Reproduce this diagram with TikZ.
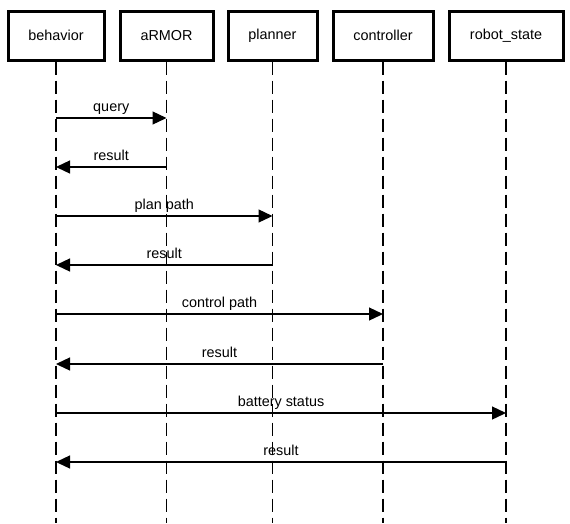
\documentclass[tikz,border=0pt]{standalone}
\usepackage{fontspec}
\setmainfont{Liberation Sans}
\usetikzlibrary{arrows.meta}

\begin{document}
\begin{tikzpicture}[
  x=1pt, y=-1pt,
  font=\fontsize{14.4}{17}\selectfont,
  box/.style={draw, line width=3pt, fill=white, rectangle,
              minimum height=49pt, align=center, inner sep=2pt},
  ll/.style={line width=1.7pt, dash pattern=on 13pt off 6pt},
  arr/.style={-{Triangle[length=14pt,width=13pt]}, line width=1.3pt},
  lbl/.style={anchor=base, inner sep=0pt},
]
  \useasboundingbox (0,0) rectangle (570,523);

  % --- Participant boxes ---
  \node[box, minimum width=96pt]  (behavior)   at (56,35.5)    {behavior};
  \node[box, minimum width=93pt]  (armor)      at (166.5,35.5) {aRMOR};
  \node[box, minimum width=89pt]  (planner)    at (272.5,35.5) {planner};
  \node[box, minimum width=100pt] (controller) at (383,35.5)   {controller};
  \node[box, minimum width=114pt] (robotstate) at (506,35.5)   {robot\_state};

  % --- Lifelines ---
  \foreach \n in {behavior,armor,planner,controller,robotstate}
    \draw[ll] (\n.south) -- (\n.south |- 0,523);

  % ======== aRMOR ========
  \draw[arr] (behavior |- 0,118) -- (armor |- 0,118)
    node[lbl, midway, yshift=7pt] {query};
  \draw[arr] (armor |- 0,167) -- (behavior |- 0,167)
    node[lbl, midway, yshift=7pt] {result};

  % ======== planner ========
  \draw[arr] (behavior |- 0,216) -- (planner |- 0,216)
    node[lbl, midway, yshift=7pt] {plan path};
  \draw[arr] (planner |- 0,265) -- (behavior |- 0,265)
    node[lbl, midway, yshift=7pt] {result};

  % ======== controller ========
  \draw[arr] (behavior |- 0,314) -- (controller |- 0,314)
    node[lbl, midway, yshift=7pt] {control path};
  \draw[arr] (controller |- 0,364) -- (behavior |- 0,364)
    node[lbl, midway, yshift=7pt] {result};

  % ======== robot_state ========
  \draw[arr] (behavior |- 0,413) -- (robotstate |- 0,413)
    node[lbl, midway, yshift=7pt] {battery status};
  \draw[arr] (robotstate |- 0,462) -- (behavior |- 0,462)
    node[lbl, midway, yshift=7pt] {result};

\end{tikzpicture}
\end{document}
